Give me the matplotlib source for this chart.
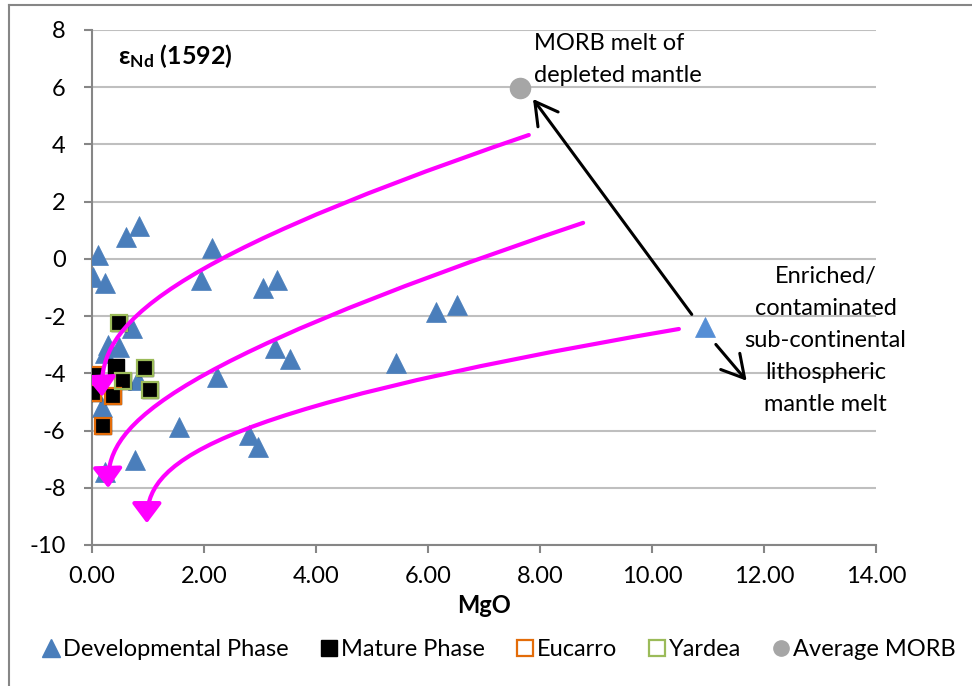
import numpy as np
import matplotlib
matplotlib.use('Agg')
import matplotlib.pyplot as plt
from matplotlib.path import Path
from matplotlib.patches import FancyArrowPatch
from matplotlib.lines import Line2D

plt.rcParams['font.family'] = ['Lato', 'DejaVu Sans']
plt.rcParams['mathtext.fontset'] = 'custom'
plt.rcParams['mathtext.rm'] = 'Lato'
plt.rcParams['mathtext.bf'] = 'Lato:bold'
plt.rcParams['axes.unicode_minus'] = False

# ---- data ----
dev_mgo = [0.11, 0.61, 0.845, 0.02, 0.23, 2.14, 1.95, 3.05, 3.3, 0.71, 0.29,
           0.49, 0.23, 2.23, 3.27, 3.54, 0.17, 1.56, 2.81, 2.96, 0.76, 0.23,
           0.82, 5.43, 6.14, 6.51]
dev_end = [0.14, 0.78, 1.15, -0.62, -0.85, 0.37, -0.74, -1.02, -0.74, -2.43,
           -3.01, -3.07, -3.3, -4.12, -3.13, -3.5, -5.17, -5.87, -6.16, -6.57,
           -7.03, -7.44, -4.23, -3.65, -1.85, -1.61]
enr_mgo = [10.95]
enr_end = [-2.37]

mat_mgo = [0.49, 0.43, 0.95, 0.05, 0.55, 1.04, 0.01, 0.37, 0.19]
mat_end = [-2.25, -3.77, -3.83, -4.06, -4.26, -4.58, -4.68, -4.78, -5.84]
euc_mgo = [0.05, 0.01, 0.37, 0.19]
euc_end = [-4.06, -4.68, -4.78, -5.84]
yar_mgo = [0.49, 0.95, 0.55, 1.04]
yar_end = [-2.25, -3.83, -4.26, -4.58]
morb_mgo = [7.64]
morb_end = [5.98]

xticks = np.arange(0, 15, 2)
yticks = np.arange(-10, 9, 2)

# hand drawn mixing curves (bezier control points, data units)
curves = [
    [(7.80, 4.33), (0.71, -0.40), (0.13, -2.62), (0.18, -4.82)],
    [(8.77, 1.26), (0.91, -3.92), (0.26, -6.01), (0.29, -8.01)],
    [(10.48, -2.45), (1.74, -5.38), (0.98, -7.25), (0.98, -9.24)],
]
arrows = [((10.71, -1.94), (7.875, 5.59)), ((11.14, -2.99), (11.69, -4.26))]

blue = '#4a7ebb'
grey_ax = '#868686'
fs = 17

fig = plt.figure(figsize=(9.72, 6.86), dpi=100)
ax = fig.add_axes([92/972, 1 - 545/686, 784/972, 515/686])

ax.plot(dev_mgo, dev_end, '^', ms=14.5, color=blue, mec=blue, mew=0.5,
        label='Developmental Phase', zorder=3)
ax.plot(enr_mgo, enr_end, '^', ms=14.5, color='#558ed5', mec='#558ed5',
        mew=0.5, zorder=3)
ax.plot(mat_mgo, mat_end, 's', ms=12, color='k', mec='k', zorder=4,
        label='Mature Phase')
ax.plot(euc_mgo, euc_end, 's', ms=12, mfc='none', mec='#e36c09', mew=1.6,
        zorder=5, label='Eucarro')
ax.plot(yar_mgo, yar_end, 's', ms=12, mfc='none', mec='#9bbb59', mew=1.6,
        zorder=5, label='Yardea')
ax.plot(morb_mgo, morb_end, 'o', ms=14.5, color='#a6a6a6', mec='#a6a6a6',
        zorder=5, label='Average MORB')

for pts in curves:
    p = Path(pts, [Path.MOVETO, Path.CURVE4, Path.CURVE4, Path.CURVE4])
    arr = FancyArrowPatch(path=p, arrowstyle='-|>,head_length=0.6,head_width=0.45',
                          mutation_scale=20, color='#ff00ff', lw=3,
                          zorder=6)
    ax.add_patch(arr)

for a, b in arrows:
    ax.annotate('', xy=b, xytext=a,
                arrowprops=dict(arrowstyle='->,head_length=0.8,head_width=0.45',
                                mutation_scale=20, color='k', lw=2.2,
                                shrinkA=0, shrinkB=0), zorder=7)

ax.set_xlim(0, 14)
ax.set_ylim(-10, 8)
ax.set_xticks(xticks)
ax.set_xticklabels(['%.2f' % v for v in xticks])
ax.set_yticks(yticks)
ax.yaxis.grid(True, color='#bfbfbf', lw=1.5)
ax.set_axisbelow(True)
for s in ['top', 'right']:
    ax.spines[s].set_visible(False)
for s in ['left', 'bottom']:
    ax.spines[s].set_color(grey_ax)
    ax.spines[s].set_linewidth(1.5)
ax.tick_params(axis='both', direction='out', length=6, width=1.5,
               color=grey_ax, labelsize=fs)
ax.tick_params(axis='y', pad=13)
ax.tick_params(axis='x', pad=9)
ax.set_xlabel('MgO', fontsize=fs, fontweight='bold', labelpad=5)

ax.text(0.033, 0.934, r'$\mathbf{\epsilon_{Nd}}$ (1592)', transform=ax.transAxes,
        fontsize=18, fontweight='bold', va='baseline', ha='left')
ax.text(7.89, 6.98, 'MORB melt of\ndepleted mantle', fontsize=fs,
        ha='left', va='center', linespacing=1.65)
ax.text(13.1, -2.84, 'Enriched/\ncontaminated\nsub-continental\nlithospheric\nmantle melt',
        fontsize=fs, ha='center', va='center', linespacing=1.65)

handles = [
    Line2D([], [], ls='', marker='^', ms=13, color=blue),
    Line2D([], [], ls='', marker='s', ms=11, color='k'),
    Line2D([], [], ls='', marker='s', ms=11, mfc='white', mec='#e36c09', mew=1.6),
    Line2D([], [], ls='', marker='s', ms=11, mfc='white', mec='#9bbb59', mew=1.6),
    Line2D([], [], ls='', marker='o', ms=11, color='#a6a6a6'),
]
labels = ['Developmental Phase', 'Mature Phase', 'Eucarro', 'Yardea', 'Average MORB']
fig.legend(handles, labels, loc='center', bbox_to_anchor=(0.513, 1 - 650/686),
           ncol=5, frameon=False, fontsize=fs, handlelength=0.8,
           handletextpad=0.1, columnspacing=1.3)

# chart area border
fig.add_artist(Line2D([9/972, 9/972], [0, 1 - 5/686], color=grey_ax, lw=1.5))
fig.add_artist(Line2D([9/972, 1], [1 - 5/686, 1 - 5/686], color=grey_ax, lw=1.5))

fig.savefig('out.png', dpi=100)
